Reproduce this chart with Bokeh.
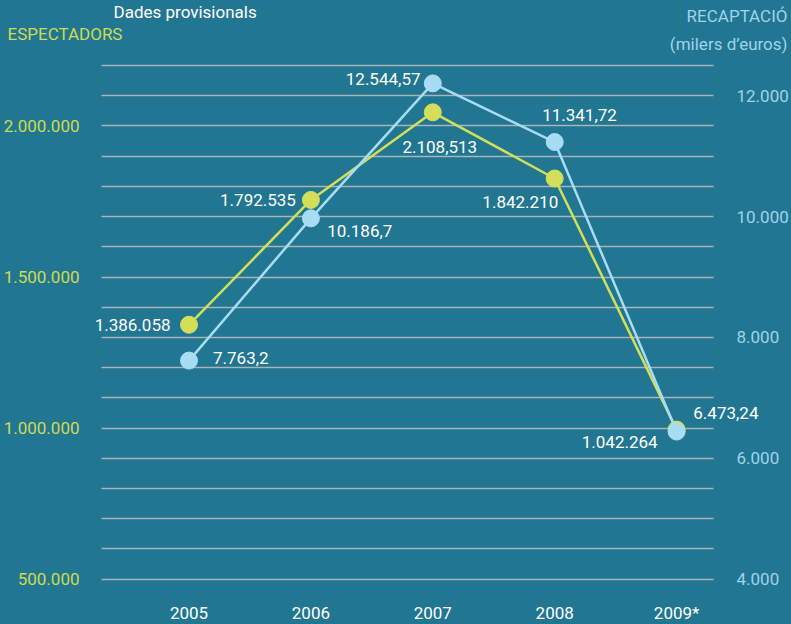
from bokeh.plotting import figure
from bokeh.models import (Range1d, LinearAxis, FixedTicker, ColumnDataSource,
                          LabelSet, Label, Grid, GlobalInlineStyleSheet)
from bokeh.core.properties import value
from bokeh.embed import file_html
from bokeh.resources import INLINE

# ---------------- data ----------------
years = [2005, 2006, 2007, 2008, 2009]
year_labels = ["2005", "2006", "2007", "2008", "2009*"]

espectadors = [1342000, 1755000, 2045000, 1826000, 995000]
espectadors_labels = ["1.386.058", "1.792.535", "2.108,513", "1.842.210", "1.042.264"]

recaptacio = [7617, 9971, 12204, 11234, 6443]
recaptacio_labels = ["7.763,2", "10.186,7", "12.544,57", "11.341,72", "6.473,24"]

left_ticks = [500000, 1000000, 1500000, 2000000]
left_tick_labels = ["500.000", "1.000.000", "1.500.000", "2.000.000"]
right_ticks = [4000, 6000, 8000, 10000, 12000]
right_tick_labels = ["4.000", "6.000", "8.000", "10.000", "12.000"]
grid_values = list(range(500000, 2200001, 100000))

# ---------------- styling ----------------
BG = "#217691"
YELLOW = "#d3df58"
BLUE = "#a8dcf4"
YELLOW_TXT = "#cfdb52"
BLUE_TXT = "#9fd4ec"
GRID = "#a9b5ba"
FONT = "Roboto"
FS = "17px"

W, H = 791, 624
PLOT_L, PLOT_R, PLOT_B = 101, 713, 592   # where the grid / axes sit, in pixels

X0PX, XPPY = 188.5, 121.9


def px_to_x(px):
    return 2005 + (px - X0PX) / XPPY


Y_A_PX, Y_A = 578.7, 500000
Y_B_PX, Y_B = 65.0, 2200000


def py_to_y(py):
    return Y_A + (Y_A_PX - py) * (Y_B - Y_A) / (Y_A_PX - Y_B_PX)


def left_to_right(v):
    # 4.000 <-> 500.000 and 12.000 <-> 2.100.000
    return 4000 + (v - 500000) / 200.0


p = figure(width=W, height=H, output_backend="svg", toolbar_location=None,
           x_range=Range1d(px_to_x(0), px_to_x(W)),
           y_range=Range1d(py_to_y(H), py_to_y(0)),
           x_axis_location=None, y_axis_location=None,
           min_border=0, min_border_left=0, min_border_right=0,
           min_border_top=0, min_border_bottom=0,
           background_fill_color=BG, border_fill_color=BG,
           outline_line_color=None)
p.title.visible = False
p.xgrid.visible = False
p.ygrid.visible = False
p.stylesheets = [GlobalInlineStyleSheet(
    css="html, body {margin:0 !important; padding:0; background:%s; overflow:hidden;}" % BG)]

p.extra_y_ranges = {"right": Range1d(left_to_right(p.y_range.start),
                                     left_to_right(p.y_range.end))}

common = dict(axis_line_color=None, major_tick_line_color=None,
              minor_tick_line_color=None, major_tick_out=0, major_tick_in=0,
              minor_tick_out=0, minor_tick_in=0, major_label_text_font=FONT,
              major_label_text_font_size=FS)

xaxis = LinearAxis(ticker=FixedTicker(ticks=years),
                   major_label_overrides={y: l for y, l in zip(years, year_labels)},
                   major_label_text_color="white", major_label_standoff=10,
                   major_label_text_align="center", major_label_text_baseline="top",
                   fixed_location=py_to_y(PLOT_B), **common)
p.add_layout(xaxis, "below")

laxis = LinearAxis(ticker=FixedTicker(ticks=left_ticks),
                   major_label_overrides={t: l for t, l in zip(left_ticks, left_tick_labels)},
                   major_label_text_color=YELLOW_TXT, major_label_standoff=22,
                   major_label_text_align="right", major_label_text_baseline="middle",
                   fixed_location=px_to_x(PLOT_L), **common)
p.add_layout(laxis, "left")

raxis = LinearAxis(y_range_name="right", ticker=FixedTicker(ticks=right_ticks),
                   major_label_overrides={t: l for t, l in zip(right_ticks, right_tick_labels)},
                   major_label_text_color=BLUE_TXT, major_label_standoff=23,
                   major_label_text_align="left", major_label_text_baseline="middle",
                   fixed_location=px_to_x(PLOT_R), **common)
p.add_layout(raxis, "right")

# horizontal grid lines between the two axes
if "cross_bounds" in Grid.properties():
    g = Grid(dimension=1, ticker=FixedTicker(ticks=grid_values),
             grid_line_color=GRID, grid_line_width=1.5,
             cross_bounds=(px_to_x(PLOT_L), px_to_x(PLOT_R)))
    p.add_layout(g)
else:
    p.segment(x0=px_to_x(PLOT_L), x1=px_to_x(PLOT_R), y0=grid_values, y1=grid_values,
              line_color=GRID, line_width=1.5)

# series
src_e = ColumnDataSource(dict(
    x=years, y=espectadors, text=espectadors_labels,
    align=["right", "right", "center", "right", "right"],
    xo=[-18.5, -15, 7, 3.5, -19],
    yo=[0, 0, -35, -23.4, -12.7]))
src_r = ColumnDataSource(dict(
    x=years, y=recaptacio, text=recaptacio_labels,
    align=["left", "left", "right", "center", "left"],
    xo=[24, 16.3, -12.3, 24.8, 16.7],
    yo=[3, -12.7, 4.4, 27.3, 18.7]))

p.line("x", "y", source=src_e, line_color=YELLOW, line_width=2.5)
p.scatter("x", "y", source=src_e, size=17, fill_color=YELLOW, line_color=YELLOW)
p.line("x", "y", source=src_r, line_color=BLUE, line_width=2.5, y_range_name="right")
p.scatter("x", "y", source=src_r, size=17, fill_color=BLUE, line_color=BLUE,
          y_range_name="right")

for src, rng in ((src_e, "default"), (src_r, "right")):
    p.add_layout(LabelSet(x="x", y="y", text="text", source=src, y_range_name=rng,
                          x_offset="xo", y_offset="yo", text_align="align",
                          text_baseline=value("middle"), text_color=value("white"),
                          text_font=value(FONT), text_font_size=value(FS)))

# titles
p.add_layout(Label(x=px_to_x(113), y=py_to_y(1), text="Dades provisionals",
                   text_align="left", text_baseline="top", text_color="white",
                   text_font=FONT, text_font_size=FS))
p.add_layout(Label(x=px_to_x(7), y=py_to_y(33), text="ESPECTADORS",
                   text_align="left", text_baseline="middle", text_color=YELLOW_TXT,
                   text_font=FONT, text_font_size=FS))
p.add_layout(Label(x=px_to_x(787), y=py_to_y(15), text="RECAPTACIÓ",
                   text_align="right", text_baseline="middle", text_color=BLUE_TXT,
                   text_font=FONT, text_font_size=FS))
p.add_layout(Label(x=px_to_x(787), y=py_to_y(43), text="(milers d’euros)",
                   text_align="right", text_baseline="middle", text_color=BLUE_TXT,
                   text_font=FONT, text_font_size=FS))

open("out.html", "w").write(file_html(p, INLINE))
